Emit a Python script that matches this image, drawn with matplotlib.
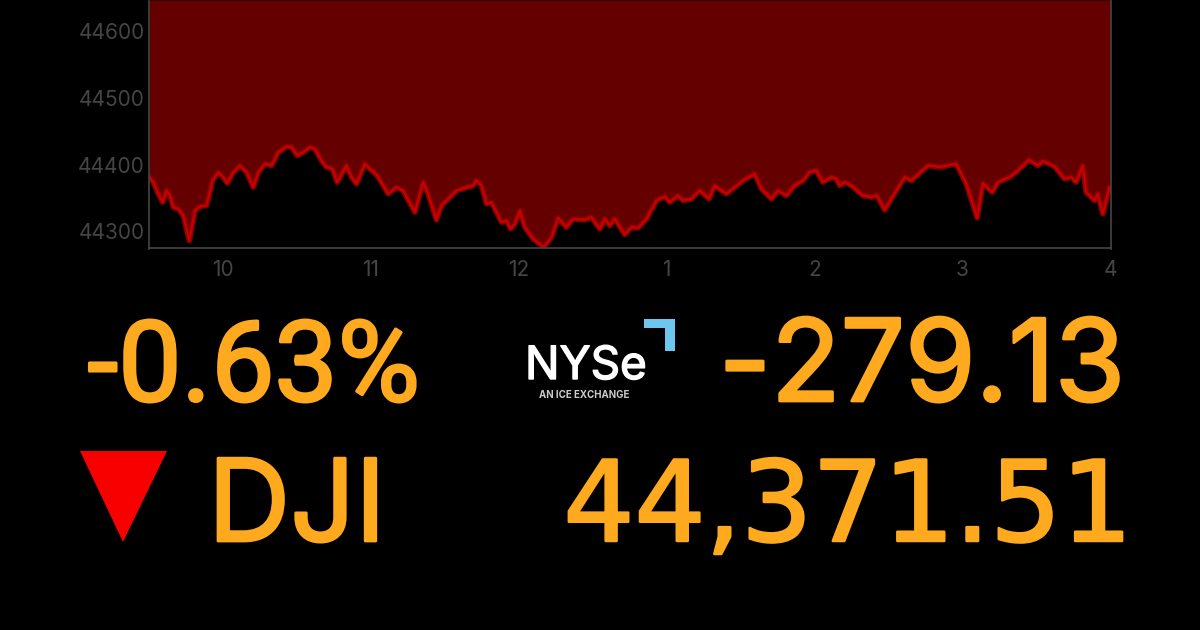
import matplotlib
matplotlib.use('Agg')
import matplotlib.pyplot as plt
import matplotlib.patheffects as pe
from matplotlib.patches import Polygon
from matplotlib.ticker import FormatStrFormatter

plt.rcParams['font.family'] = ['Inter', 'DejaVu Sans']

# Dow intraday, hours on a 24h clock (9.5 = 9:30am)
hours_morning = [9.502, 9.529, 9.563, 9.592, 9.619, 9.642, 9.664, 9.698, 9.732, 9.772, 9.811, 9.844, 9.889, 9.930,
                 9.968, 10.002, 10.029, 10.070, 10.115, 10.160, 10.205, 10.239, 10.284, 10.329, 10.374, 10.430,
                 10.464, 10.502, 10.543, 10.588, 10.621, 10.666, 10.700, 10.741, 10.772, 10.835, 10.869, 10.903,
                 10.959, 10.993, 11.043, 11.117, 11.173, 11.218, 11.297, 11.353, 11.387, 11.443, 11.477, 11.579,
                 11.691]
dow_morning = [44381.5, 44374, 44356.5, 44344, 44361.5, 44354, 44336.5, 44334, 44324, 44286.5, 44331.5, 44337.5,
               44339, 44376.5, 44389, 44381.5, 44372.5, 44389, 44399, 44389, 44366.5, 44389, 44401.5, 44399, 44419,
               44427.5, 44426.5, 44414, 44419, 44426.5, 44424, 44406.5, 44396.5, 44394, 44374, 44399, 44381.5,
               44371.5, 44401.5, 44394, 44384, 44356.5, 44366.5, 44361.5, 44329, 44374, 44356.5, 44317.5, 44339,
               44361.5, 44369]
hours_midday = [11.714, 11.748, 11.782, 11.815, 11.883, 11.917, 11.944, 11.973, 12.007, 12.041, 12.097, 12.169,
                12.221, 12.266, 12.322, 12.367, 12.446, 12.491, 12.547, 12.581, 12.615, 12.649, 12.716, 12.761,
                12.806, 12.863, 12.930, 12.987, 13.020, 13.077, 13.110, 13.167, 13.223, 13.286, 13.324, 13.403,
                13.516, 13.595, 13.640, 13.707, 13.752, 13.809, 13.865]
dow_midday = [44376.5, 44369, 44341.5, 44344, 44314, 44316.5, 44304, 44311.5, 44331.5, 44306.5, 44289, 44276.5,
              44291.5, 44320.5, 44306.5, 44319, 44317.5, 44321.5, 44304, 44319, 44309, 44319, 44295.5, 44306.5,
              44305.5, 44319, 44346.5, 44352.5, 44344, 44354, 44346.5, 44349, 44361.5, 44349, 44369, 44356.5,
              44376.5, 44386.5, 44364, 44349, 44361.5, 44354, 44369]
hours_close = [13.921, 13.966, 14.011, 14.056, 14.113, 14.146, 14.169, 14.203, 14.248, 14.326, 14.383, 14.421,
               14.473, 14.518, 14.608, 14.653, 14.766, 14.845, 14.957, 15.025, 15.099, 15.137, 15.200, 15.239,
               15.317, 15.362, 15.448, 15.509, 15.543, 15.622, 15.689, 15.734, 15.768, 15.813, 15.835, 15.892,
               15.914, 15.948, 15.993, 16.0]
dow_close = [44376.5, 44389, 44391.5, 44374, 44381.5, 44379, 44369, 44374, 44369, 44354, 44351.5, 44354, 44332.5,
             44349, 44381.5, 44376.5, 44399, 44396.5, 44401.5, 44371.5, 44320.5, 44372.5, 44359, 44374, 44381.5,
             44389, 44407.5, 44399, 44405.5, 44397.5, 44379, 44381.5, 44374, 44399, 44359, 44346.5, 44356.5,
             44326.5, 44366.5, 44362]

hours = hours_morning + hours_midday + hours_close
dow = dow_morning + dow_midday + dow_close

x_ticks = [10, 11, 12, 13, 14, 15, 16]
x_labels = ['10', '11', '12', '1', '2', '3', '4']
y_ticks = [44300, 44400, 44500, 44600]

orange = '#FFA91E'
grey = '#454545'

fig = plt.figure(figsize=(12, 6.3), dpi=100, facecolor='black')

# big readout drawn on a full figure layer in pixel units
bg = fig.add_axes([0, 0, 1, 1])
bg.set_xlim(0, 1200)
bg.set_ylim(630, 0)
bg.axis('off')

# no single installed face has the broadcast font's widths, so the family varies per string
stroke = [pe.withStroke(linewidth=2, foreground=orange)]
bg.text(420, 401, '-0.63%', color=orange, fontsize=81, family='Roboto', ha='right', va='baseline', path_effects=stroke)
bg.text(1125, 401, '-279.13', color=orange, fontsize=82, family='Inter', ha='right', va='baseline', path_effects=stroke)
bg.text(208, 541, 'DJI', color=orange, fontsize=82, family='Inter', ha='left', va='baseline', path_effects=stroke)
bg.text(1132, 541, '44,371.51', color=orange, fontsize=80.5, family='DejaVu Sans', ha='right', va='baseline',
        path_effects=[pe.withStroke(linewidth=1.8, foreground=orange)])
bg.add_patch(Polygon([(80, 451), (167, 451), (123, 542)], closed=True, color='#F80000', lw=0))

# NYSE logo
bg.text(525, 379, 'NYSe', color='white', fontsize=33, ha='left', va='baseline',
        path_effects=[pe.withStroke(linewidth=1, foreground='white')])
bg.text(539, 398, 'AN ICE EXCHANGE', color='#cccccc', fontsize=7, fontweight='bold', ha='left', va='baseline')
bg.add_patch(Polygon([(644, 319), (675, 319), (675, 351), (665, 351), (665, 328), (644, 328)],
                     closed=True, color='#6CC6EE', lw=0))

# chart
ax = fig.add_axes([149 / 1200, 1 - 248.5 / 630, 961.5 / 1200, 248.5 / 630])
ax.set_facecolor('black')
ax.set_xlim(9.5, 16)
ax.set_ylim(44274.5, 44647)
ax.fill_between(hours, dow, 44647, color='#640000', lw=0)
ax.plot(hours, dow, color='#C80000', lw=1.6,
        path_effects=[pe.Stroke(linewidth=4, foreground='#8a0000'), pe.Normal()])

ax.set_xticks(x_ticks)
ax.set_xticklabels(x_labels)
ax.set_yticks(y_ticks)
ax.tick_params(axis='x', length=0, labelsize=15, labelcolor=grey, pad=8)
ax.tick_params(axis='y', length=0, labelsize=15, labelcolor=grey, pad=3)
ax.yaxis.set_major_formatter(FormatStrFormatter('%d'))
ax.spines['top'].set_visible(False)
for side in ['left', 'right', 'bottom']:
    ax.spines[side].set_color(grey)
    ax.spines[side].set_linewidth(1.2)

fig.savefig('out.png', dpi=100, facecolor='black')
